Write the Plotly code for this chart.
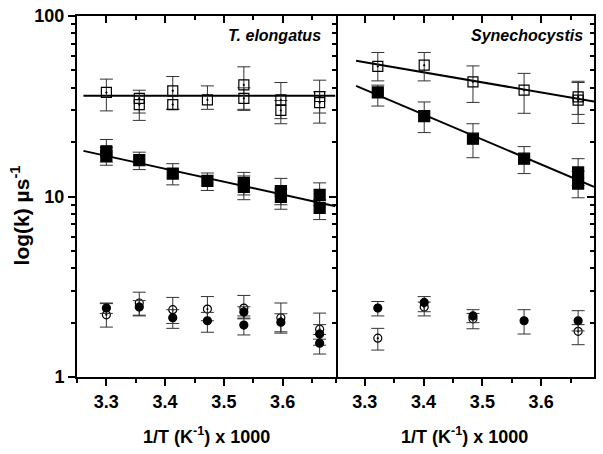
import plotly.graph_objects as go

# ---------------- data ----------------
x_tickvals = [3.3, 3.4, 3.5, 3.6]
x_ticktext = ["3.3", "3.4", "3.5", "3.6"]
x_minorvals = [3.25, 3.35, 3.45, 3.55, 3.65]
y_tickvals = [1, 10, 100]
y_ticktext = ["1", "10", "100"]
y_minorvals = [2, 3, 4, 5, 6, 7, 8, 9, 20, 30, 40, 50, 60, 70, 80, 90]

# T. elongatus (left panel)
te_osq_x = [3.300, 3.356, 3.356, 3.413, 3.413, 3.472, 3.534, 3.534, 3.597, 3.597, 3.663, 3.663]
te_osq_y = [37.7, 35.0, 32.3, 38.5, 32.3, 34.3, 41.5, 35.0, 34.3, 30.0, 35.8, 33.1]
te_osq_hi = [44.7, 38.8, 36.0, 46.2, 36.0, 41.0, 52.3, 40.0, 42.8, 34.0, 44.1, 38.0]
te_osq_lo = [29.8, 26.4, 29.0, 30.4, 30.4, 30.4, 30.4, 30.0, 25.3, 27.0, 25.5, 29.0]

te_fsq_x = [3.300, 3.300, 3.356, 3.413, 3.472, 3.534, 3.534, 3.597, 3.597, 3.663, 3.663]
te_fsq_y = [17.8, 16.8, 15.9, 13.4, 12.2, 11.9, 11.3, 10.7, 9.96, 10.2, 8.65]
te_fsq_hi = [20.7, 18.7, 17.6, 15.2, 13.5, 13.6, 13.0, 12.6, 11.0, 11.9, 9.6]
te_fsq_lo = [14.9, 15.5, 14.1, 11.6, 10.8, 10.2, 9.6, 8.5, 9.0, 8.9, 7.45]

te_oci_x = [3.300, 3.356, 3.413, 3.472, 3.534, 3.597, 3.663]
te_oci_y = [2.21, 2.57, 2.36, 2.38, 2.41, 2.13, 1.84]
te_oci_hi = [2.57, 2.95, 2.76, 2.79, 2.83, 2.57, 2.26]
te_oci_lo = [1.89, 2.20, 1.98, 2.05, 2.12, 1.75, 1.62]

te_fci_x = [3.300, 3.356, 3.413, 3.472, 3.534, 3.534, 3.597, 3.663, 3.663]
te_fci_y = [2.41, 2.44, 2.13, 2.05, 2.29, 1.94, 2.01, 1.73, 1.54]
te_fci_hi = [2.55, 2.65, 2.36, 2.28, 2.45, 2.18, 2.24, 1.95, 1.72]
te_fci_lo = [2.25, 2.18, 1.86, 1.77, 2.10, 1.71, 1.78, 1.50, 1.34]

te_fit_x = [3.261, 3.69]
te_fit_open = [36.1, 36.1]
te_fit_fill = [17.9, 8.83]

# Synechocystis (right panel)
sy_osq_x = [3.322, 3.401, 3.484, 3.571, 3.663, 3.663]
sy_osq_y = [52.6, 53.4, 43.2, 38.8, 35.6, 34.2]
sy_osq_hi = [62.8, 62.8, 52.9, 48.1, 42.8, 43.5]
sy_osq_lo = [43.7, 43.7, 33.2, 28.9, 28.5, 25.4]

sy_fsq_x = [3.322, 3.401, 3.484, 3.571, 3.663, 3.663]
sy_fsq_y = [37.7, 27.9, 20.9, 16.2, 13.6, 11.8]
sy_fsq_hi = [41.4, 33.4, 25.3, 18.9, 16.2, 13.8]
sy_fsq_lo = [31.7, 22.6, 16.4, 13.4, 11.5, 9.84]

sy_oci_x = [3.322, 3.401, 3.484, 3.663]
sy_oci_y = [1.64, 2.44, 2.10, 1.79]
sy_oci_hi = [1.86, 2.60, 2.25, 1.95]
sy_oci_lo = [1.41, 2.18, 1.85, 1.51]

sy_fci_x = [3.322, 3.401, 3.484, 3.571, 3.663]
sy_fci_y = [2.41, 2.59, 2.18, 2.05, 2.05]
sy_fci_hi = [2.62, 2.79, 2.36, 2.36, 2.33]
sy_fci_lo = [2.18, 2.30, 2.00, 1.73, 1.80]

sy_fit_x = [3.285, 3.69]
sy_fit_open = [56.5, 33.6]
sy_fit_fill = [41.0, 11.3]

# ---------------- figure ----------------
FONT = "Liberation Sans, Arial, sans-serif"
X_RANGE = [3.25, 3.69]
Y_RANGE = [0, 2]

fig = go.Figure()


def add_line(xs, ys, xa, ya):
    fig.add_trace(go.Scatter(x=xs, y=ys, mode="lines", xaxis=xa, yaxis=ya,
                             line=dict(color="black", width=2), hoverinfo="skip"))


def add_pts(xs, ys, hi, lo, symbol, size, xa, ya):
    plus = [h - v for h, v in zip(hi, ys)]
    minus = [v - l for v, l in zip(ys, lo)]
    fig.add_trace(go.Scatter(
        x=xs, y=ys, mode="markers", xaxis=xa, yaxis=ya,
        marker=dict(symbol=symbol, size=size, color="black",
                    line=dict(color="black", width=1.2)),
        error_y=dict(type="data", symmetric=False, array=plus, arrayminus=minus,
                     color="#333333", thickness=1, width=6.5),
    ))


# left panel
add_line(te_fit_x, te_fit_open, "x", "y")
add_line(te_fit_x, te_fit_fill, "x", "y")
add_pts(te_osq_x, te_osq_y, te_osq_hi, te_osq_lo, "square-open-dot", 10, "x", "y")
add_pts(te_fsq_x, te_fsq_y, te_fsq_hi, te_fsq_lo, "square", 11, "x", "y")
add_pts(te_oci_x, te_oci_y, te_oci_hi, te_oci_lo, "circle-open-dot", 8, "x", "y")
add_pts(te_fci_x, te_fci_y, te_fci_hi, te_fci_lo, "circle", 8, "x", "y")

# right panel
add_line(sy_fit_x, sy_fit_open, "x2", "y2")
add_line(sy_fit_x, sy_fit_fill, "x2", "y2")
add_pts(sy_osq_x, sy_osq_y, sy_osq_hi, sy_osq_lo, "square-open-dot", 10, "x2", "y2")
add_pts(sy_fsq_x, sy_fsq_y, sy_fsq_hi, sy_fsq_lo, "square", 11, "x2", "y2")
add_pts(sy_oci_x, sy_oci_y, sy_oci_hi, sy_oci_lo, "circle-open-dot", 8, "x2", "y2")
add_pts(sy_fci_x, sy_fci_y, sy_fci_hi, sy_fci_lo, "circle", 8, "x2", "y2")

# empty traces so that the mirror (top / right) axes get drawn
fig.add_trace(go.Scatter(x=[None], y=[None], xaxis="x3", yaxis="y3", mode="markers",
                         hoverinfo="skip"))
fig.add_trace(go.Scatter(x=[None], y=[None], xaxis="x4", yaxis="y4", mode="markers",
                         hoverinfo="skip"))

tickfont = dict(family=FONT, size=18, color="black", weight="bold")

xbase = dict(range=X_RANGE, showline=True, linecolor="black", linewidth=2,
             showgrid=False, zeroline=False, tickmode="array", automargin=False,
             tickvals=x_tickvals, ticktext=x_ticktext, ticklen=7, tickwidth=1.5,
             tickcolor="black", tickfont=tickfont, ticklabeloverflow="allow")
ybase = dict(type="log", range=Y_RANGE, showline=True, linecolor="black", linewidth=2,
             showgrid=False, zeroline=False, tickmode="array", automargin=False,
             tickvals=y_tickvals, ticktext=y_ticktext, ticklen=7, tickwidth=1.5,
             tickcolor="black", tickfont=tickfont, ticklabeloverflow="allow")

x_minor_out = dict(tickmode="array", tickvals=x_minorvals, ticks="outside",
                   ticklen=4, tickwidth=1.5, tickcolor="black", showgrid=False)
x_minor_in = dict(x_minor_out, ticks="inside")
y_minor_out = dict(tickmode="array", tickvals=y_minorvals, ticks="outside",
                   ticklen=4, tickwidth=1.5, tickcolor="black", showgrid=False)
y_minor_in = dict(y_minor_out, ticks="inside")

fig.update_layout(
    width=603, height=454,
    margin=dict(l=77, r=9, t=16, b=77),
    paper_bgcolor="white", plot_bgcolor="white",
    showlegend=False,
    font=dict(family=FONT, color="black"),
    xaxis=dict(xbase, domain=[0, 0.5], anchor="y", ticks="outside", minor=x_minor_out),
    xaxis2=dict(xbase, domain=[0.5, 1], anchor="y2", ticks="outside", minor=x_minor_out),
    xaxis3=dict(xbase, overlaying="x", anchor="y", side="top", ticks="inside",
                showticklabels=False, minor=x_minor_in),
    xaxis4=dict(xbase, overlaying="x2", anchor="y2", side="top", ticks="inside",
                showticklabels=False, minor=x_minor_in),
    yaxis=dict(ybase, domain=[0, 1], anchor="x", side="left", ticks="outside",
               minor=y_minor_out),
    yaxis2=dict(ybase, domain=[0, 1], anchor="x2", side="left", ticks="",
                showticklabels=False, showline=False),
    yaxis3=dict(ybase, overlaying="y", anchor="x", side="right", ticks="inside",
                showticklabels=False, minor=y_minor_in),
    yaxis4=dict(ybase, overlaying="y2", anchor="x2", side="right", ticks="inside",
                showticklabels=False, minor=y_minor_in),
)

title_font = dict(family=FONT, size=18, color="black")
annotations = [
    dict(text="<b>log(k) µs<sup>-1</sup></b>", xref="paper", yref="paper",
         x=-0.11, y=0.448, xanchor="center", yanchor="middle", textangle=-90,
         showarrow=False, font=dict(family=FONT, size=21, color="black")),
    dict(text="<b>1/T (K<sup>-1</sup>) x 1000</b>", xref="paper", yref="paper",
         x=0.25, y=-0.163, xanchor="center", yanchor="middle", showarrow=False,
         font=title_font),
    dict(text="<b>1/T (K<sup>-1</sup>) x 1000</b>", xref="paper", yref="paper",
         x=0.75, y=-0.163, xanchor="center", yanchor="middle", showarrow=False,
         font=title_font),
    dict(text="<b><i>T. elongatus</i></b>", xref="paper", yref="paper",
         x=0.4758, y=0.9446, xanchor="right", yanchor="middle", showarrow=False,
         font=dict(family=FONT, size=16, color="black")),
    dict(text="<b><i>Synechocystis</i></b>", xref="paper", yref="paper",
         x=0.9826, y=0.9446, xanchor="right", yanchor="middle", showarrow=False,
         font=dict(family=FONT, size=16, color="black")),
]
fig.update_layout(annotations=annotations)

# remove the browser's default 8px body margin so the figure fills the window
fig.write_html("out.html",
               config={"displayModeBar": False},
               post_script="document.body.style.margin='0';document.body.style.overflow='hidden';")
